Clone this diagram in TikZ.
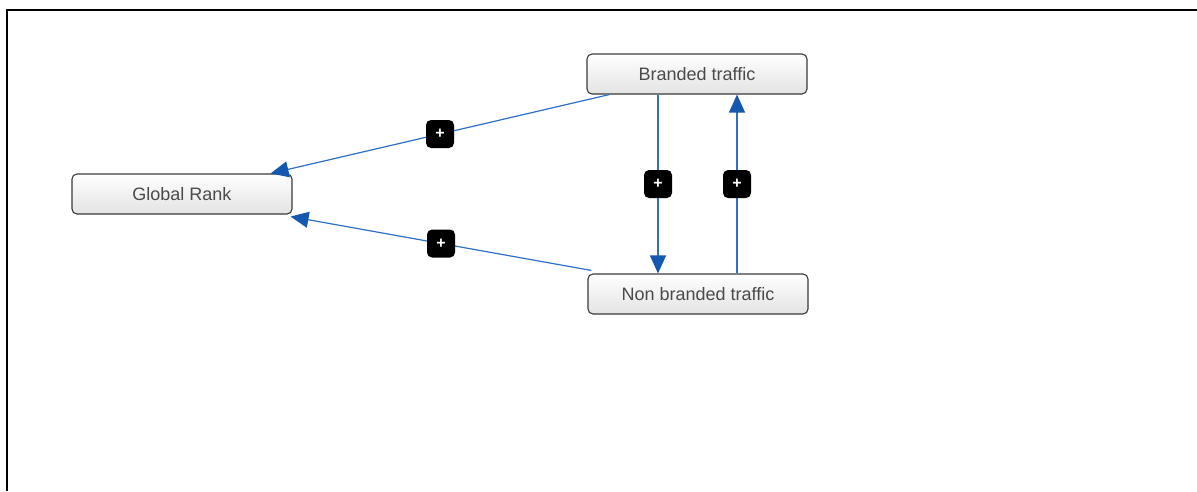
\documentclass[tikz,border=0pt]{standalone}
\usepackage{fontspec}
\setmainfont{Liberation Sans}
\usetikzlibrary{arrows.meta}
\definecolor{edgeblue}{HTML}{2E6FC7}
\definecolor{tipblue}{HTML}{1558B0}
\definecolor{boxline}{HTML}{3A3A3A}
\definecolor{boxtext}{HTML}{4A4A4A}
\begin{document}
\begin{tikzpicture}[x=1pt,y=-1pt,
    factor/.style={draw=boxline,line width=1.1pt,rounded corners=5pt,
      top color=white,bottom color=black!11,
      minimum width=220pt,minimum height=40pt,inner sep=0pt,
      text=boxtext,font=\fontsize{18}{20}\selectfont},
    link/.style={draw=edgeblue,line width=1.2pt,
      -{Triangle[length=18pt,width=16pt,color=tipblue]}},
    plus/.style={fill=black,rounded corners=5pt,minimum size=28pt,inner sep=0pt,
      text=white,font=\bfseries\fontsize{16}{16}\selectfont}]
  \useasboundingbox (0,0) rectangle (1197,491);
  \draw[line width=2.5pt] (7,491) -- (7,10) -- (1197,10);

  \node[factor] (bt) at (697,74) {\raisebox{-1.5pt}{Branded traffic}};
  \node[factor] (gr) at (182,194) {\raisebox{-1.5pt}{Global Rank}};
  \node[factor] (nbt) at (698,294) {\raisebox{-1.5pt}{Non branded traffic}};

  \draw[link] ([xshift=23pt]bt.south west) -- node[plus] {+} ([xshift=-22pt]gr.north east);
  \draw[link] ([xshift=4pt,yshift=3pt]nbt.north west) -- node[plus] {+} ([xshift=-2pt,yshift=-2pt]gr.south east);
  \draw[link] ([xshift=-39pt]bt.south) -- node[plus] {+} ([xshift=-40pt]nbt.north);
  \draw[link] ([xshift=39pt]nbt.north) -- node[plus] {+} ([xshift=40pt]bt.south);
\end{tikzpicture}
\end{document}
